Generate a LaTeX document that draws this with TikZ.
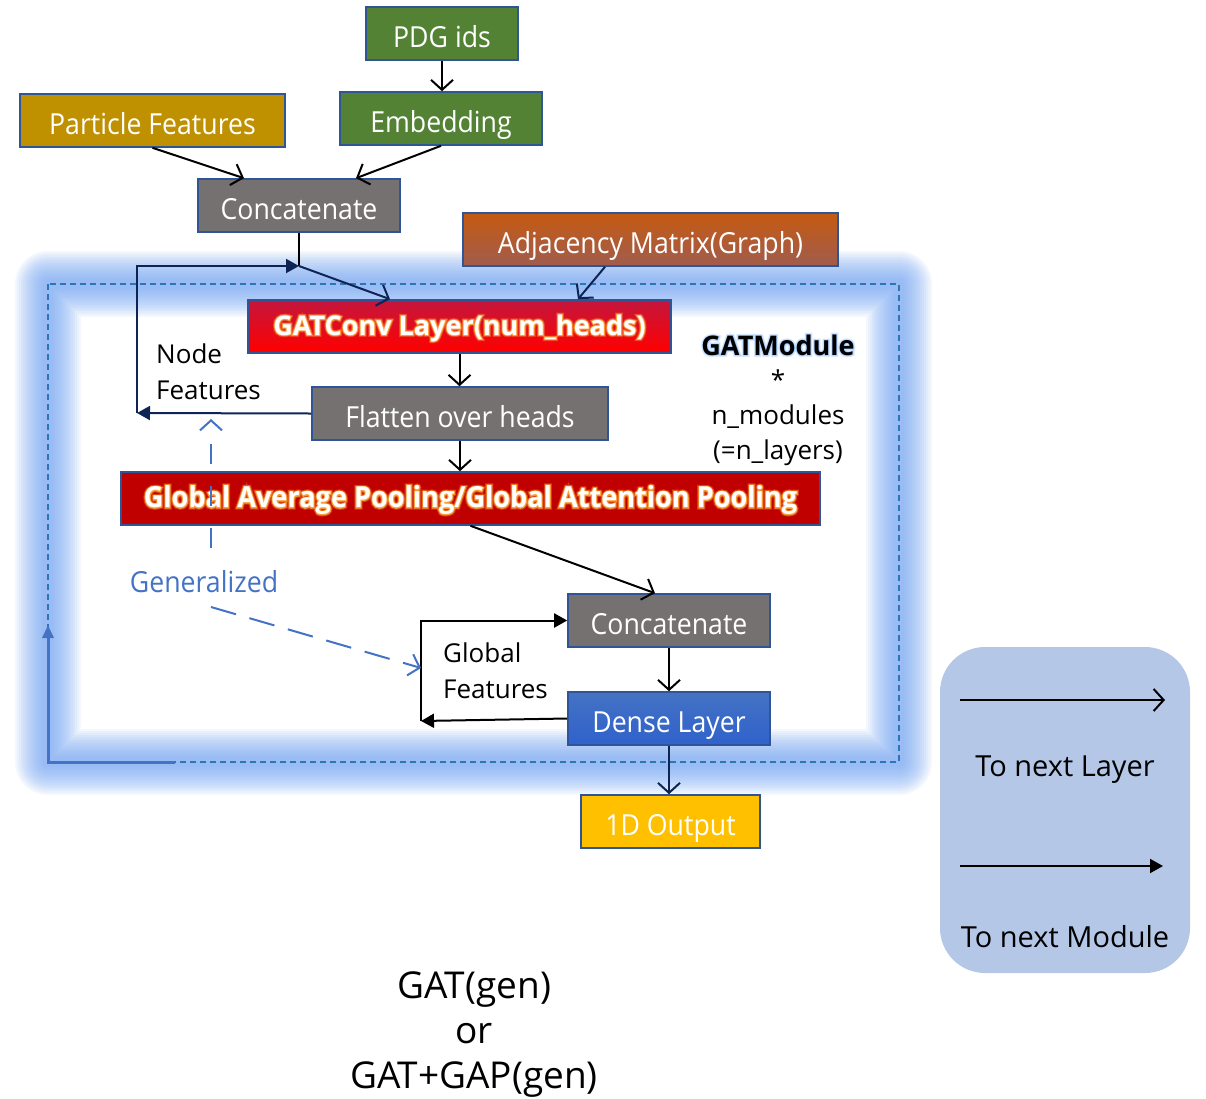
\documentclass[tikz,border=0pt]{standalone}
\usepackage{fontspec}
\setmainfont{Open Sans}
\newfontfamily\narrowfont[FakeStretch=0.92]{Open Sans}
\newfontfamily\widenarrowfont[FakeStretch=0.935]{Open Sans}
% emboldened faces used as soft halos behind highlighted titles
\newfontfamily\haloone[FakeBold=7]{Open Sans}
\newfontfamily\halotwo[FakeBold=14]{Open Sans}
\newfontfamily\narrowhaloone[FakeStretch=0.935,FakeBold=7]{Open Sans}
\newfontfamily\narrowhalotwo[FakeStretch=0.935,FakeBold=14]{Open Sans}
\usetikzlibrary{arrows.meta,calc}

\definecolor{boxedge}{RGB}{47,85,151}
\definecolor{leafgreen}{RGB}{84,130,53}
\definecolor{gold}{RGB}{191,144,0}
\definecolor{slate}{RGB}{118,113,113}
\definecolor{rust}{RGB}{197,90,17}
\definecolor{rustdark}{RGB}{160,92,78}
\definecolor{crimson}{RGB}{196,22,60}
\definecolor{brightred}{RGB}{255,0,0}
\definecolor{darkred}{RGB}{192,0,0}
\definecolor{denseblue}{RGB}{68,114,196}
\definecolor{denseblue2}{RGB}{47,98,204}
\definecolor{amber}{RGB}{255,192,0}
\definecolor{navy}{RGB}{14,36,84}
\definecolor{glowblue}{RGB}{110,160,240}
\definecolor{dashblue}{RGB}{46,117,182}
\definecolor{genblue}{RGB}{68,114,196}
\definecolor{legendfill}{RGB}{180,199,231}
\definecolor{warmglow}{RGB}{255,170,60}
\definecolor{coolglow}{RGB}{140,190,255}

\tikzset{
  box/.style={draw=boxedge, line width=1.6pt, text=white, minimum height=53pt,
    inner sep=0pt, text height=29pt, text depth=2pt,
    font=\narrowfont\fontsize{29}{34}\selectfont},
  arr/.style={line width=2pt, -{Straight Barb[length=10pt,width=22pt]}},
  solidarr/.style={line width=2pt, -{Triangle[length=13pt,width=14pt]}},
  lbl/.style={inner sep=0pt, font=\fontsize{26}{36}\selectfont, align=left},
  gendash/.style={genblue, line width=2pt, -{Straight Barb[length=10pt,width=22pt]}},
  plain/.style={inner sep=0pt},
}

\begin{document}
\begin{tikzpicture}[x=1pt,y=-1pt]
\useasboundingbox (0,0) rectangle (1206,1098);

% glowing frame of the repeated module
\foreach \w in {66,62,...,10}
  \draw[glowblue, line width=\w pt, opacity=0.08, line join=round] (48,284) rectangle (899,762);
\draw[dashblue, line width=1.5pt, dash pattern=on 6pt off 4pt] (48,284) rectangle (899,762);

% input boxes
\node[box, fill=leafgreen, minimum width=152pt] (pdg) at (442,33.5) {PDG ids};
\node[box, fill=leafgreen, minimum width=202pt] (emb) at (441,118.5) {Embedding};
\node[box, fill=gold, minimum width=265pt] (pf) at (152.5,120.5) {Particle Features};
\node[box, fill=slate, minimum width=202pt] (cat1) at (299,205.5) {Concatenate};
\node[box, top color=rust, middle color=rust, bottom color=rustdark, minimum width=375pt] (adj) at (650.5,239.5) {Adjacency Matrix(Graph)};

% module boxes
\node[box, top color=crimson, middle color=brightred, bottom color=brightred, minimum width=423pt] (gat) at (459.5,326.5) {};
\node[plain, text=warmglow, text opacity=0.35, font=\halotwo\bfseries\fontsize{27}{32}\selectfont] (gathalo2) at (459.5,328) {GATConv Layer(num\_heads)};
\node[plain, text=warmglow, text opacity=0.85, font=\haloone\bfseries\fontsize{27}{32}\selectfont] (gathalo1) at (459.5,328) {GATConv Layer(num\_heads)};
\node[plain, text=white, font=\bfseries\fontsize{27}{32}\selectfont] (gattxt) at (459.5,328) {GATConv Layer(num\_heads)};

\node[box, fill=slate, minimum width=296pt] (flat) at (460,413.5) {Flatten over heads};
\node[box, fill=darkred, minimum width=699pt] (gap) at (470.5,498.5) {};
\node[plain, text=warmglow, text opacity=0.35, font=\narrowhalotwo\bfseries\fontsize{29}{32}\selectfont] (gaphalo2) at (470.5,500) {Global Average Pooling/Global Attention Pooling};
\node[plain, text=warmglow, text opacity=0.85, font=\narrowhaloone\bfseries\fontsize{29}{32}\selectfont] (gaphalo1) at (470.5,500) {Global Average Pooling/Global Attention Pooling};
\node[plain, text=white, font=\widenarrowfont\bfseries\fontsize{29}{32}\selectfont] (gaptxt) at (470.5,500) {Global Average Pooling/Global Attention Pooling};

\node[box, fill=slate, minimum width=202pt] (cat2) at (669,620.5) {Concatenate};
\node[box, top color=denseblue, bottom color=denseblue2, minimum width=202pt] (dense) at (669,718.5) {Dense Layer};
\node[box, fill=amber, minimum width=179pt] (out) at (670.5,821.5) {1D Output};

% side labels
\node[lbl, anchor=north west] (nflbl) at (156,344) {Node\\Features};
\node[lbl, anchor=north west] (gflbl) at (443,643) {Global\\Features};
\node[plain, text=genblue, font=\narrowfont\fontsize{29}{34}\selectfont] (gen) at (204,582) {Generalized};
\node[plain, text=coolglow, text opacity=0.3, font=\halotwo\bfseries\fontsize{27}{32}\selectfont] (modhalo2) at (778,345) {GATModule};
\node[plain, text=coolglow, text opacity=0.5, font=\haloone\bfseries\fontsize{27}{32}\selectfont] (modhalo1) at (778,345) {GATModule};
\node[plain, text=black, font=\bfseries\fontsize{27}{32}\selectfont] (gatmod) at (778,345) {GATModule};
\node[plain, align=center, font=\fontsize{26}{35}\selectfont] (nmod) at (778,418) {*\\n\_modules\\(=n\_layers)};

% junction points
\coordinate (join) at (299,266);
\coordinate (nfturn) at (137,413);
\coordinate (gfturn) at (421,721);
\coordinate (genup0) at (211,548);
\coordinate (genup1) at (211,419);
\coordinate (genside0) at (211,607);
\coordinate (genside1) at (421,668);
\coordinate (ret0) at (175,762);
\coordinate (ret1) at (48,762);
\coordinate (ret2) at (48,625);

% data flow
\draw[arr] (pdg.south) -- (pdg.south |- emb.north);
\draw[arr] (pf.south) -- ([xshift=-55pt]cat1.north);
\draw[arr] (emb.south) -- ([xshift=57pt]cat1.north);
\draw[line width=1.2pt] (cat1.south) -- (join);
\draw[arr, navy] (join) -- ([xshift=-69.5pt]gat.north);
\draw[arr, navy] ([xshift=-45.5pt]adj.south) -- ([xshift=118.5pt]gat.north);
\draw[arr] (gat.south) -- (gat.south |- flat.north);
\draw[arr] (flat.south) -- (flat.south |- gap.north);
\draw[arr] (gap.south) -- ([xshift=-14pt]cat2.north);
\draw[arr] (cat2.south) -- (dense.north);
\draw[arr, navy] (dense.south) -- (dense.south |- out.north);

% node feature loop back to the next layer
\draw[solidarr, navy] (flat.west) -- (nfturn);
\draw[solidarr, navy] (nfturn) |- (join);
% global feature loop
\draw[solidarr] (dense.west) -- (gfturn);
\draw[solidarr] (gfturn) |- (cat2.west);

% generalized (dashed) paths
\draw[gendash, dash pattern=on 20pt off 22pt] (genup0) -- (genup1);
\draw[gendash, dash pattern=on 26pt off 14pt] (genside0) -- (genside1);

% return to the next module
\draw[denseblue, line width=3pt, -{Triangle[length=13pt,width=11pt]}] (ret0) -- (ret1) -- (ret2);

% legend
\node[fill=legendfill, rounded corners=45pt, minimum width=250pt, minimum height=326pt, inner sep=0pt] (legend) at (1065,810) {};
\coordinate (la0) at (960,700);
\coordinate (la1) at (1165,700);
\coordinate (lb0) at (960,866);
\coordinate (lb1) at (1163,866);
\draw[arr] (la0) -- (la1);
\draw[solidarr] (lb0) -- (lb1);
\node[plain, font=\fontsize{29}{34}\selectfont] (lgl) at (1065,770) {To next Layer};
\node[plain, font=\fontsize{29}{34}\selectfont] (lgm) at (1065,937) {To next Module};

% caption
\node[plain, align=center, font=\fontsize{37}{45}\selectfont] (cap) at (474,1035) {GAT(gen)\\or\\GAT+GAP(gen)};
\end{tikzpicture}
\end{document}
